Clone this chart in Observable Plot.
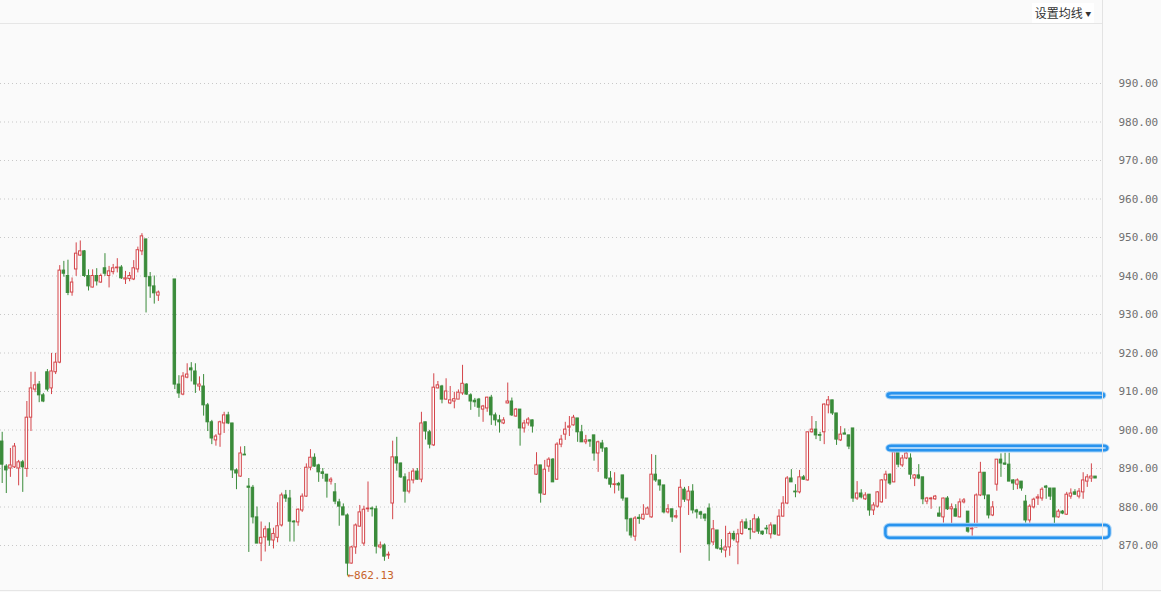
<!DOCTYPE html>
<html>
<head>
<meta charset="utf-8">
<script src="https://cdn.jsdelivr.net/npm/d3@7"></script>
<script src="https://cdn.jsdelivr.net/npm/@observablehq/plot@0.6"></script>
<style>
  html, body { margin: 0; padding: 0; background: #fafafa; }
  #wrap { position: relative; width: 1161px; height: 592px; background: #fafafa; overflow: hidden; }
  #chart svg { display: block; }
  .topline { position: absolute; left: 0; top: 23px; width: 1103px; height: 1px; background: #e6e6e6; }
  .vline { position: absolute; left: 1102px; top: 0; width: 1px; height: 591px; background: #e3e3e3; }
  .bline { position: absolute; left: 0; top: 590px; width: 1161px; height: 1px; background: #e6e6e6; }
  .hdr { position: absolute; left: 1032px; top: 3px; width: 62px; height: 20px; background: #fff;
         font: 12px "Noto Sans CJK SC", sans-serif; color: #333; line-height: 20px; text-align: center; }
</style>
</head>
<body>
<div id="wrap">
  <div id="chart"></div>
  <div class="topline"></div>
  <div class="vline"></div>
  <div class="bline"></div>
  <div class="hdr">设置均线 <span style="font-size:6px;vertical-align:2px">▼</span></div>
</div>
<script>
const open = [
897,890.5,890,890.3,890,891.6,889.9,903.2,910.5,911.8,
909,915,910.8,915,917.5,941.4,940,935.7,941.7,945.3,
946.4,940,937,940,938.3,942,940,941,942,942.2,
939.1,939.2,939.1,941.7,946.4,949.5,939.7,937.3,934.9,939.1,
939.1,939.1,939.1,911.8,909.2,913.6,916,915.2,911.3,911.3,
906.4,902,897.3,898.8,901.7,903.8,901.7,889.5,887.9,893.6,
885.3,885,877.3,870.5,872.1,874.2,871.3,872,875.2,883,
882.2,876.2,876,879.1,882.7,890.2,892.8,890.8,889,888.4,
886.6,883.8,881.2,879.9,877.8,865.3,869.5,874.9,870.5,879.4,
879.6,879.4,869.5,870,867.4,880.9,892.9,891.3,887.7,884,
886.9,889.2,887.1,902,899.4,896,910.8,911.3,907.9,906.9,
907.4,907.9,909.5,911.8,909,907.6,907.9,905.3,905.6,908.4,
903.8,902.5,901.7,906.9,907.4,903.5,905.3,900.4,901.7,902.5,
888.4,890.8,883.2,890.5,892.3,887.1,896.2,898.8,900.6,901.2,
903,899.4,896.8,897.3,898.6,893.9,896.5,895.2,887.4,885.7,
886,888.2,882.2,876.8,872.3,877.2,876.8,878,877.3,888.4,
886.9,885.6,878.6,879.4,877.3,879.9,884.5,881.7,884,879.1,
878.6,878,879.6,870.8,873.9,869.2,868.7,869.5,873,870.8,
873,876,874.3,873.4,876.8,873.6,874.4,872.9,875.2,872.6,
877.5,880.9,887.4,884,883.8,887.7,886.9,899.4,900.1,898.7,
899.4,906.4,907.7,904.3,897.3,899.1,898.6,900.4,882.2,883.5,
882,883.2,879.1,880.1,881.2,886.9,888.4,886.4,894.4,890.8,
892.6,892.6,887.4,888.2,887.7,881.4,882,882,878.3,877.3,
882.2,879.4,879.4,877.3,881.2,878.8,874.2,874.7,883,888.9,
883,877.8,885.8,892.3,891.3,891,886.9,885.8,886.6,881.4,
876.5,879.9,882.2,882.2,885.3,884.8,884.8,877.3,878.8,878,
882.7,883.8,882.7,883.8,886.6,887.4,887.9
];
const close = [
891,889.5,890.8,895.7,891.6,890.3,903.2,910.8,911.6,909,
907.4,910.5,915.2,917.5,941.4,940.6,935.6,938.3,945.8,946.4,
940,937.3,940,938.6,940,940.6,941.2,942,942.2,939.4,
939.4,940,942,946.7,950.3,939.7,937.3,935.5,935.7,939.1,
939.1,939.1,911.8,909.5,913.9,914.4,915.5,911.8,911.8,906.4,
902,897.8,898.3,902,903.8,901.7,889.5,888.7,893.9,893.4,
885,877.3,870.5,872,874.2,871.3,873,875,883,882.2,
876.2,876,879.3,882.7,890.2,892.8,890.5,889,888.6,886.6,
887.1,881.4,880.1,877.8,865.3,869.5,875.2,878.6,879.3,879.6,
879.4,869.7,870,867.1,867.6,892.9,891.3,887.7,884,886.9,
889.2,887.1,901.7,899.6,896.2,911,911.6,907.9,910,907.7,
908,909.7,912,909.2,907.4,907.2,905.8,906.1,908.4,903.8,
902.5,902,902.5,907.4,903.8,905.3,900.4,901.7,902.7,900.9,
890.8,883.5,889.7,892.3,886.4,896.2,897.5,900.1,900.9,903.2,
899.4,896.8,897.3,897,893.9,896.8,895.2,887.4,885.8,885.9,
885.6,882.2,876.8,872.6,877,876.9,878,879.6,888.4,886.9,
885.6,878.6,879.4,877.3,877.6,885,881.9,884,879.1,878.6,
878,877,870.3,874.2,869.2,868.9,869.5,873,871.6,872.9,
876,874.4,874,876.8,873.6,872.9,874.2,875.2,872.9,877.5,
880.9,887.4,886.4,883.8,887.7,887.1,899.4,900.1,898.6,898.5,
906.6,907.7,904.3,897.5,898.8,898.8,895.7,882.2,883.5,882.5,
883,879.1,880.4,883.8,886.9,888.4,886.1,894.2,891,892.6,
893.9,888.4,888.2,887.4,882,882.2,882.2,882.7,877.5,882.2,
879.4,879.9,877.5,881.2,881.7,873.6,874.4,883,888.9,883,
877.8,879.9,892.3,891.3,891,886.6,886.1,886.9,884.8,876.5,
880.1,881.9,882.5,884.5,885,882.7,877.3,878.8,878.3,883.2,
883.5,883.2,884,886.9,887.7,887.9,887.4
];
const high = [
899.4,891,895.2,896.5,892.1,892.1,907.4,915,915,912.6,
909.5,915.7,919.9,919.9,942.7,943.8,944.1,939.5,948.6,949.1,
946.6,941.6,941.6,941.9,940.5,945.8,942.5,943,944.5,942.7,
941.2,940.9,944,947.5,951,949.5,940.9,940,936.1,939.1,
939.1,939.1,939.1,914.1,914.9,917.2,917.5,917.2,913.8,914.4,
906.9,902.5,898.8,902.3,904.6,904.6,901.7,889.9,895.6,895.7,
887.4,885.6,880,876.1,875,875.9,874.5,881.1,883.6,884.3,
884.3,876.5,879.5,883.4,891.2,894.9,893.8,891.1,890,888.4,
887.6,886.1,882,880.8,878.2,869.8,875.6,880.4,880.2,886.5,
880,880.2,870.9,870.4,868.3,897.1,898.1,891.4,888.6,889,
889.9,890,904.6,902,899.9,914.6,912.6,911.6,913.3,911.3,
909.8,910.4,916.8,912,909.4,908.2,908.2,906.4,908.5,909,
904.4,903.8,903.2,912.2,908.3,905.6,905.3,902.5,903.2,902.6,
894.1,890.8,892.1,892.8,892.6,896.7,898.6,902,903.5,903.8,
903,901.2,898.6,897.5,898.6,897.1,897.3,895.4,889.2,888.9,
886.4,888.2,882.2,877.1,877.5,878,880.6,880,893.6,893.4,
886.9,885.6,880.6,879.4,879.1,887.1,885.1,885.3,885.8,879.4,
878.9,878.2,880.8,876.5,873.9,871.5,875,873.5,873.7,874.2,
876.7,876.9,876.5,878,877.4,873.7,875.2,875.9,875.2,879.3,
882.7,887.9,889.7,885.8,889.5,888.2,899.4,903.5,902.2,899.4,
906.8,908.7,907.7,904.3,900.9,900.3,898.6,900.4,886.6,884.5,
883.7,883.2,881.1,884,887.1,889.3,888.6,895.8,894.7,893.4,
894.2,893.8,888.4,891,887.7,882.5,882.5,883,880,882.3,
882.7,880.8,880.6,882.1,882.2,878.8,875.2,883.4,891.6,888.9,
883,881.4,892.3,893.8,894,894,887.1,887.3,886.6,883,
880.6,882.3,883.2,885,885.6,884.8,884.8,879.3,879.1,883.8,
884.7,884.5,884.8,888.9,888.4,891.2,887.9
];
const low = [
886.1,883.5,887.7,890,885.5,883.8,887.7,899.6,909.7,907.1,
907.1,909.9,909.2,914.4,917.2,939.7,934.9,934.75,939.9,945.1,
939.6,936.1,936.9,937.4,938.1,939.9,936.9,940.3,940.8,939.1,
937.8,938.5,938.8,940.8,945.3,930.4,934.2,932.7,933.4,939.1,
939.1,939.1,910.5,908.2,908.9,913.3,912.5,909.5,910.1,903.6,
899.6,896.2,895.8,895.5,899.1,901.4,887.4,884.5,887.7,893.4,
868.2,875.6,870.5,865.8,868.3,869.8,869.1,870.7,874.8,881.2,
870.9,870.9,875,878.6,882.5,889.4,890.3,886.4,887.2,882.3,
885.7,880.6,875,877.8,862.13,865.2,867.7,874.8,869.8,878.6,
877.4,867.8,869.1,865.9,866.4,876.7,889.3,887.4,881,883.4,
886,886.9,886.3,897.4,895.1,895.7,910.7,906.8,907.7,906.6,
905.5,907.9,909,909,905.1,905.9,903.3,902,904.6,901.2,
901,899.2,901.4,906.8,903.5,903.3,895.8,899.2,901,899.2,
888.2,881,883,889,886.4,886.9,895.4,897.3,898.3,901,
896.8,896.8,896.2,895.5,891.9,889,894.2,887.1,884.9,883.4,
884.1,881.5,873.5,871.9,871.1,875.5,876.5,878,877.1,886.4,
884.1,878.2,878.2,876,876.9,868,881.2,877.8,878.2,876.9,
876.8,876.2,865.9,870,868.9,868,866.8,867.2,871.1,865,
872.6,874.2,871.5,873.2,872.9,872.6,872.9,871.7,872.6,872.4,
877.4,880.6,886.4,882.4,883.4,886.9,886.7,899.2,897.5,897,
896.2,904.2,903.8,896,897,898.8,894.9,881.2,881.7,882.1,
881.7,877.6,877.8,879.7,881,882,885.6,886.3,890.2,890.3,
892.3,887.1,885.3,887.1,880.6,880.6,879.4,881.7,877.4,875.8,
879.1,875,877.4,877.2,880.8,873.2,871.9,874.6,882.7,881.9,
876.9,877.5,884.1,887.7,890.8,886.6,884.3,884.5,884.1,875.8,
875.8,879.5,880.4,881.5,882,881.7,874.8,877.1,878,877.8,
882,883,882.1,882,885.1,886.4,887.4
];
const yTicks = [870, 880, 890, 900, 910, 920, 930, 940, 950, 960, 970, 980, 990];
// hand-drawn zones (candle index span, price span)
const zoneStart = [215.5, 215.5, 215.0];
const zoneEnd = [268.2, 269.0, 269.5];
const zoneTop = [909.4, 895.8, 875.2];
const zoneBottom = [908.4, 894.6, 871.9];

const N = open.length;
const candles = d3.range(N).map(i => {
  const o = open[i], c = close[i];
  let dir = c > o ? "up" : c < o ? "down"
    : (i > 0 && c > close[i - 1] ? "up" : i > 0 && c < close[i - 1] ? "down" : "flat");
  return {i, o, c, h: high[i], l: low[i], dir};
});
const col = {up: "#d4454a", down: "#3a8b3a", flat: "#333333"};
const zones = zoneStart.map((s, k) => ({s, e: zoneEnd[k], t: zoneTop[k], b: zoneBottom[k]}));
const iMin = d3.minIndex(low);

const chart = Plot.plot({
  width: 1161,
  height: 592,
  marginLeft: 0,
  marginRight: 58,
  marginTop: 0,
  marginBottom: 0,
  style: {background: "#fafafa", fontFamily: "DejaVu Sans Mono", fontSize: "11px"},
  x: {type: "linear", domain: [0, N - 1], range: [1.7, 1095], axis: null},
  y: {domain: [870, 990], range: [545, 83], axis: null},
  marks: [
    Plot.ruleY(yTicks, {stroke: "#c8c8c8", strokeDasharray: "1,3"}),
    Plot.axisY(yTicks, {anchor: "right", tickSize: 0, tickPadding: 15, tickFormat: d => d.toFixed(2),
      fill: "#707070", fontFamily: "DejaVu Sans Mono", fontSize: 11, label: null}),
    Plot.ruleX(candles.filter(d => d.h > d.l), {x: "i", y1: "l", y2: "h", stroke: d => col[d.dir], strokeWidth: 1}),
    Plot.rect(candles, {x1: d => d.i - 0.3, x2: d => d.i + 0.3, y1: "o", y2: "c",
      fill: d => d.dir === "up" ? "#ffffff" : col[d.dir], stroke: d => col[d.dir], strokeWidth: 1}),
    Plot.rect(zones, {x1: "s", x2: "e", y1: "b", y2: "t", fill: "none", stroke: "#a8d4f8", strokeWidth: 4.5, rx: 4}),
    Plot.rect(zones, {x1: "s", x2: "e", y1: "b", y2: "t", fill: "none", stroke: "#2893ee", strokeWidth: 2.5, rx: 4}),
    Plot.text([iMin], {x: d => d, y: d => low[d], text: d => "\u2190" + low[d].toFixed(2), textAnchor: "start",
      fill: "#c8642a", fontSize: 11, fontFamily: "DejaVu Sans Mono", dx: 0})
  ]
});
document.getElementById("chart").appendChild(chart);
</script>
</body>
</html>
